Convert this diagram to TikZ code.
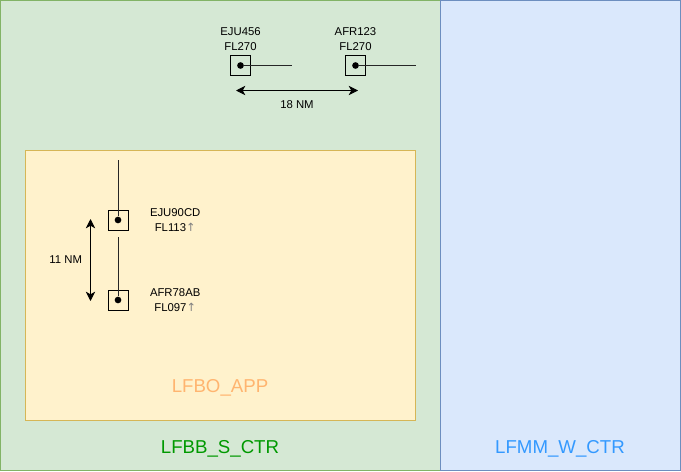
\documentclass[tikz,border=0pt]{standalone}
\usepackage{fontspec}
\setmainfont{Liberation Sans}
\newfontfamily\symfont{DejaVu Sans}
\usepackage{xcolor}
\usepackage{tikz}
\usetikzlibrary{arrows, arrows.meta, positioning, calc}
\definecolor{ctrgreen}{HTML}{D5E8D4}
\definecolor{ctrgreenline}{HTML}{82B366}
\definecolor{ctrblue}{HTML}{DAE8FC}
\definecolor{ctrblueline}{HTML}{6C8EBF}
\definecolor{appfill}{HTML}{FFF2CC}
\definecolor{appline}{HTML}{D6B656}
\definecolor{txtgreen}{HTML}{009900}
\definecolor{txtblue}{HTML}{3399FF}
\definecolor{txtorange}{HTML}{FFB570}
\newcommand{\climb}{{\symfont\color{gray}↑}}
\tikzset{%
	sector/.style={draw, rectangle, anchor=north west, inner sep=0mm},
	plane/.style={draw, rectangle, minimum size=15pt, inner sep=0mm, fill=none, line width=0.6pt},
	blip/.style={circle, fill=black, minimum size=5pt, inner sep=0mm},
	track/.style={line width=0.6pt, black!85},
	tag/.style={align=center, font=\fontsize{8.5}{11.5}\selectfont, inner sep=0mm},
	sepline/.style={{Stealth[length=7pt,width=7pt,inset=2pt]}-{Stealth[length=7pt,width=7pt,inset=2pt]}, line width=0.75pt},
	sepnote/.style={font=\fontsize{8.5}{10}\selectfont, inner sep=0mm},
	ctrname/.style={font=\fontsize{14}{16}\selectfont, inner sep=0mm}
}

\begin{document}
\begin{tikzpicture}[x=0.75pt, y=-0.75pt]
	\useasboundingbox (0,0) rectangle (681,471);
	% sectors
	\node[sector, fill=ctrgreen, draw=ctrgreenline, minimum width=330pt, minimum height=352.5pt] (lfbb) at (0,0) {};
	\node[sector, fill=ctrblue, draw=ctrblueline, minimum width=180pt, minimum height=352.5pt] (lfmm) at (440,0) {};
	\node[sector, fill=appfill, draw=appline, minimum width=292.5pt, minimum height=202.5pt] (lfbo) at (25,150) {};
	\node[ctrname, text=txtgreen] (lfbb-name) at (220,449) {LFBB\_S\_CTR};
	\node[ctrname, text=txtblue] (lfmm-name) at (560,449) {LFMM\_W\_CTR};
	\node[ctrname, text=txtorange] (lfbo-name) at (220,388) {LFBO\_APP};

	% en-route pair
	\node[plane] (eju456) at (240.5,65.5) {};
	\node[blip] (eju456-dot) at (240.5,65.5) {};
	\coordinate (eju456-end) at (292,65.5);
	\node[tag, above=3pt of eju456] (eju456-tag) {EJU456\\FL270};
	\node[plane] (afr123) at (355.5,65.5) {};
	\node[blip] (afr123-dot) at (355.5,65.5) {};
	\coordinate (afr123-end) at (416,65.5);
	\node[tag, above=3pt of afr123] (afr123-tag) {AFR123\\FL270};
	\draw [track] (eju456-dot) -- (eju456-end);
	\draw [track] (afr123-dot) -- (afr123-end);
	\coordinate (sep-a) at (236,90.5);
	\coordinate (sep-b) at (358,90.5);
	\draw [sepline] (sep-a) to node[below=7pt, sepnote] (sep-h) {18 NM} (sep-b);

	% approach pair
	\node[plane] (eju90cd) at (118,220) {};
	\node[blip] (eju90cd-dot) at (118,220) {};
	\coordinate (eju90cd-end) at (118,160);
	\node[tag, right=16pt of eju90cd] (eju90cd-tag) {EJU90CD\\FL113\climb};
	\node[plane] (afr78ab) at (118,300) {};
	\node[blip] (afr78ab-dot) at (118,300) {};
	\coordinate (afr78ab-end) at (118,237);
	\node[tag, right=16pt of afr78ab] (afr78ab-tag) {AFR78AB\\FL097\climb};
	\draw [track] (eju90cd-dot) -- (eju90cd-end);
	\draw [track] (afr78ab-dot) -- (afr78ab-end);
	\coordinate (sep-c) at (90.5,219);
	\coordinate (sep-d) at (90.5,301);
	\draw [sepline] (sep-c) to node[left=6pt, sepnote] (sep-v) {11 NM} (sep-d);
\end{tikzpicture}
\end{document}
